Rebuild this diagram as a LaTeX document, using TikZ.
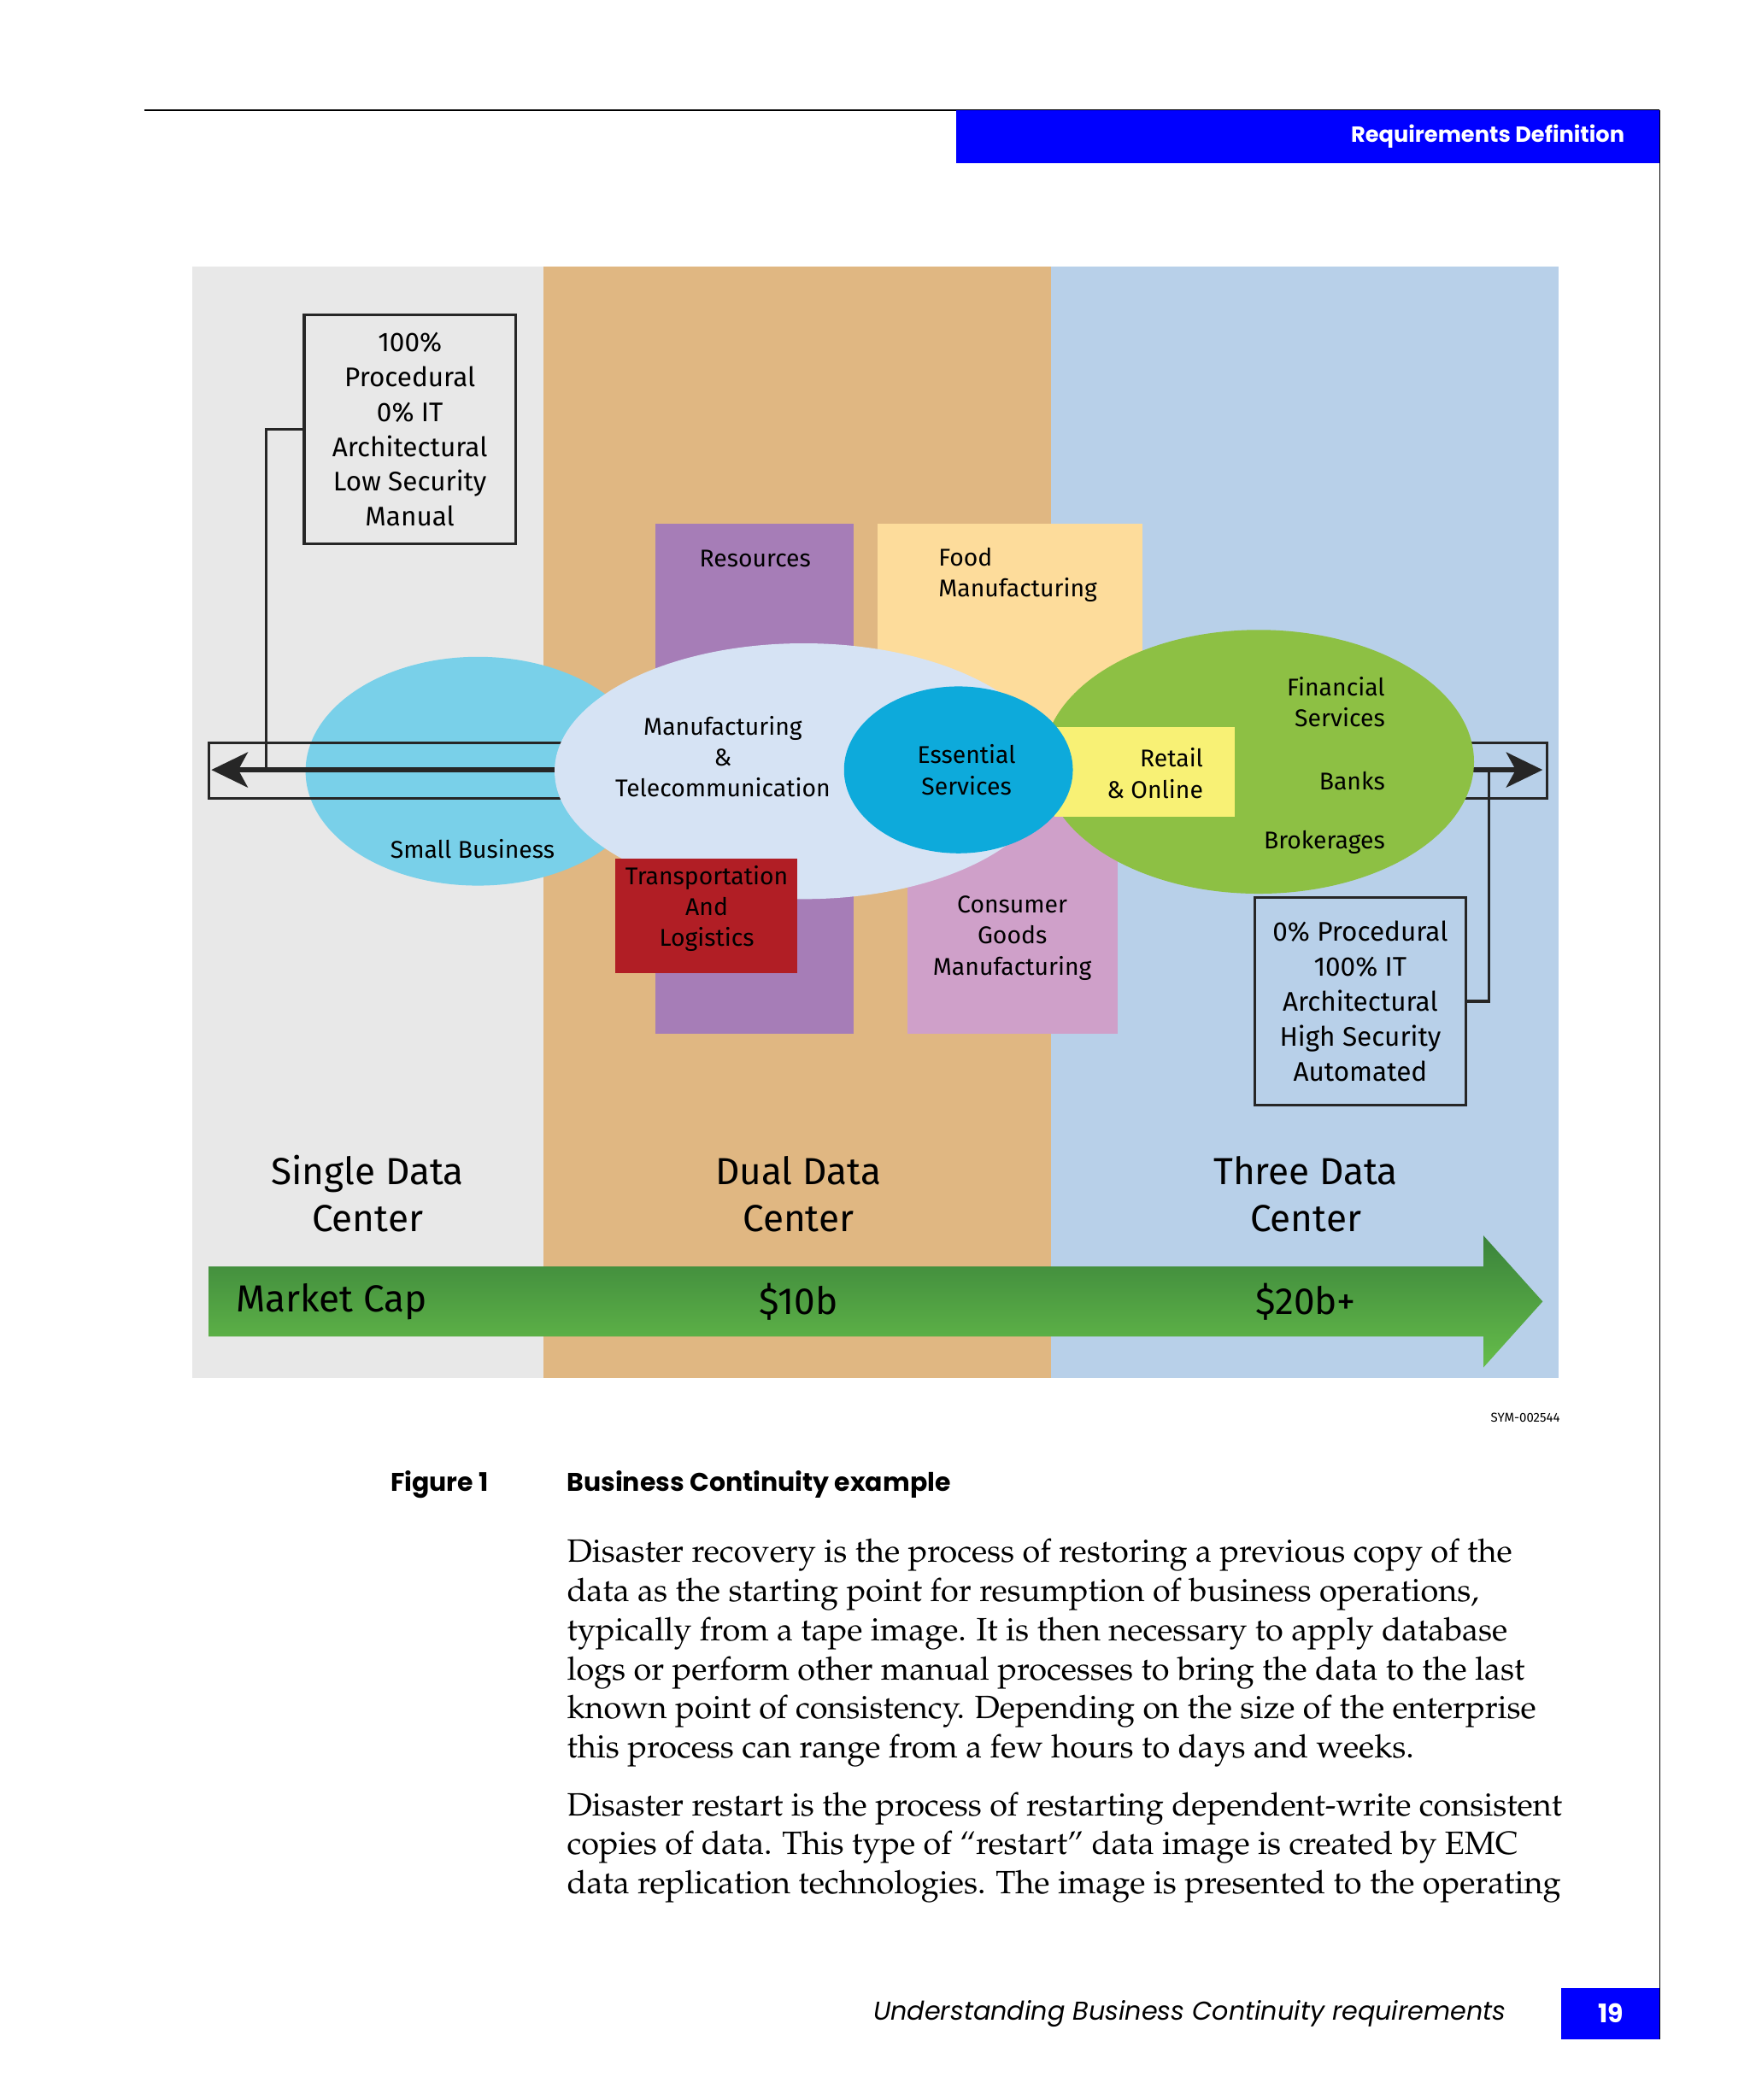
\documentclass[tikz,border=0pt]{standalone}
\usepackage[T1]{fontenc}
\usepackage{fontspec}
\setmainfont{Fira Sans}
\newfontfamily\pagefont{Poppins}
\usetikzlibrary{positioning,arrows.meta,shapes.geometric}

\newcommand\bodyfont{\fontencoding{T1}\fontfamily{ppl}\selectfont}

\definecolor{panelgrey}{HTML}{E8E8E8}
\definecolor{paneltan}{HTML}{E0B782}
\definecolor{panelblue}{HTML}{B8D0E9}
\definecolor{resc}{HTML}{A67DB7}
\definecolor{foodc}{HTML}{FDDC9B}
\definecolor{consc}{HTML}{CFA0C9}
\definecolor{transc}{HTML}{B11E25}
\definecolor{smallc}{HTML}{79D0E9}
\definecolor{mfgc}{HTML}{D6E3F4}
\definecolor{essc}{HTML}{0DAADB}
\definecolor{greenc}{HTML}{8DC044}
\definecolor{retailc}{HTML}{F8F175}
\definecolor{capdark}{HTML}{3A833B}
\definecolor{caplight}{HTML}{66BD4A}
\definecolor{headblue}{HTML}{0000FF}

\begin{document}
\begin{tikzpicture}[x=1pt, y=-1pt,
  lbl/.style={font=\fontsize{18}{23}\selectfont, align=center, inner sep=0pt},
  bigl/.style={font=\fontsize{28}{35}\selectfont, align=center, inner sep=0pt},
  infobox/.style={draw=black!85, line width=2.2pt, align=center, inner sep=0pt,
    font=\fontsize{20}{26}\selectfont, minimum width=157},
  bracketline/.style={line width=2pt, black!85},
  bigarrow/.style={line width=3.8pt, black!85, -{Stealth[length=27pt,width=26pt,inset=7pt]}},
  pagetext/.style={font=\pagefont, inner sep=0pt},
  bodytext/.style={font=\bodyfont\fontsize{24}{29}\selectfont, align=left, anchor=base west, inner sep=0pt}
]
\fill[white] (0,0) rectangle (1300,1560.3);
\useasboundingbox (0,0) rectangle (1300,1560.3);

% page furniture
\draw[line width=1.3pt] (107,82) -- (1233,82);
\fill[headblue] (710,82) rectangle (1233,121);
\node[pagetext, font=\pagefont\bfseries\fontsize{16.3}{19}\selectfont, text=white, anchor=east] (chapter) at (1207,101.5) {Requirements Definition};
\draw[line width=1pt] (1233,82) -- (1233,1515);
\fill[headblue] (1160,1477) rectangle (1233,1515);
\node[pagetext, font=\pagefont\bfseries\fontsize{19}{22}\selectfont, text=white] (pagenum) at (1196.5,1496) {19};
\node[pagetext, font=\pagefont\itshape\fontsize{19.2}{23}\selectfont, anchor=east] (footer) at (1119,1496) {Understanding Business Continuity requirements};

% three panels
\fill[panelgrey] (143,198) rectangle (404,1024);
\fill[paneltan] (404,198) rectangle (781,1024);
\fill[panelblue] (781,198) rectangle (1158,1024);

% sector blocks
\fill[resc] (487,389) rectangle (634,768);
\fill[foodc] (652,389) rectangle (849,560);
\fill[consc] (674,600) rectangle (830,768);
\fill[smallc] (355,573) ellipse [x radius=128, y radius=85];

% left arrow
\draw[bracketline] (430,552) -- (155,552) -- (155,593) -- (430,593);
\coordinate (lfstart) at (430,572);
\coordinate (lftip) at (157,572);
\draw[bigarrow] (lfstart) -- (lftip);

\fill[mfgc] (597,573) ellipse [x radius=185, y radius=95];
\fill[transc] (457,638) rectangle (592,723);

% right arrow
\draw[bracketline] (1060,552) -- (1149,552) -- (1149,593) -- (1060,593);
\coordinate (rfstart) at (1060,572);
\coordinate (rftip) at (1146,572);
\draw[bigarrow] (rfstart) -- (rftip);

\fill[greenc] (935,566) ellipse [x radius=160, y radius=98];
\fill[retailc] (783,540) rectangle (917,607);
\fill[essc] (712,572) ellipse [x radius=85, y radius=62];

% labels
\node[lbl] (restxt) at (561,415) {Resources};
\node[lbl, align=left, anchor=west] (foodtxt) at (697,427) {Food\\Manufacturing};
\node[lbl] (constxt) at (752,697) {Consumer\\Goods\\Manufacturing};
\node[lbl] (smalltxt) at (351,631) {Small Business};
\node[lbl] (mfgtxt) at (537,562) {Manufacturing\\\&\\Telecommunication};
\node[lbl] (transtxt) at (525,675) {Transportation\\And\\Logistics};
\node[lbl] (esstxt) at (718,572) {Essential\\Services};
\node[lbl, align=right, anchor=east] (retailtxt) at (894,574.5) {Retail\\\& Online};
\node[lbl, align=right, anchor=east] (fintxt) at (1029,521.5) {Financial\\Services};
\node[lbl, anchor=east] (bankstxt) at (1029,580) {Banks};
\node[lbl, anchor=east] (broktxt) at (1029,626) {Brokerages};

% info boxes
\node[infobox, minimum height=170] (lowbox) at (304.5,319) {100\%\\Procedural\\0\% IT\\Architectural\\Low Security\\Manual};
\node[infobox, minimum height=154] (highbox) at (1010.5,744) {0\% Procedural\\100\% IT\\Architectural\\High Security\\Automated};
\coordinate (ljoin) at (198,572);
\coordinate (rjoin) at (1106,572);
\draw[bracketline] (lowbox.west) -| (ljoin);
\draw[bracketline] (highbox.east) -| (rjoin);

% data centers
\node[bigl] (single) at (273,887) {Single Data\\Center};
\node[bigl] (dual) at (593,887) {Dual Data\\Center};
\node[bigl] (three) at (970,887) {Three Data\\Center};

% market cap arrow
\shade[top color=capdark, bottom color=caplight] (155,941) -- (1102,941) -- (1102,918) -- (1146,967)
  -- (1102,1016) -- (1102,993) -- (155,993) -- cycle;
\node[bigl, anchor=west] (mcap) at (175,967) {Market Cap};
\node[bigl] (ten) at (593,967) {\$10b};
\node[bigl] (twenty) at (970,967) {\$20b+};

\node[font=\fontsize{9.5}{11}\selectfont, anchor=east, inner sep=0pt] (symid) at (1159,1053) {SYM-002544};

% caption and text
\node[pagetext, font=\pagefont\bfseries\fontsize{19}{22}\selectfont, anchor=west] (figlbl) at (290,1103) {Figure 1};
\node[pagetext, font=\pagefont\bfseries\fontsize{19}{22}\selectfont, anchor=west] (figtitle) at (421,1103) {Business Continuity example};
\node[bodytext] (para1) at (421,1306) {Disaster recovery is the process of restoring a previous copy of the\\
data as the starting point for resumption of business operations,\\
typically from a tape image. It is then necessary to apply database\\
logs or perform other manual processes to bring the data to the last\\
known point of consistency. Depending on the size of the enterprise\\
this process can range from a few hours to days and weeks.};
\node[bodytext] (para2) at (421,1407) {Disaster restart is the process of restarting dependent-write consistent\\
copies of data. This type of ``restart'' data image is created by EMC\\
data replication technologies. The image is presented to the operating};
\end{tikzpicture}
\end{document}
